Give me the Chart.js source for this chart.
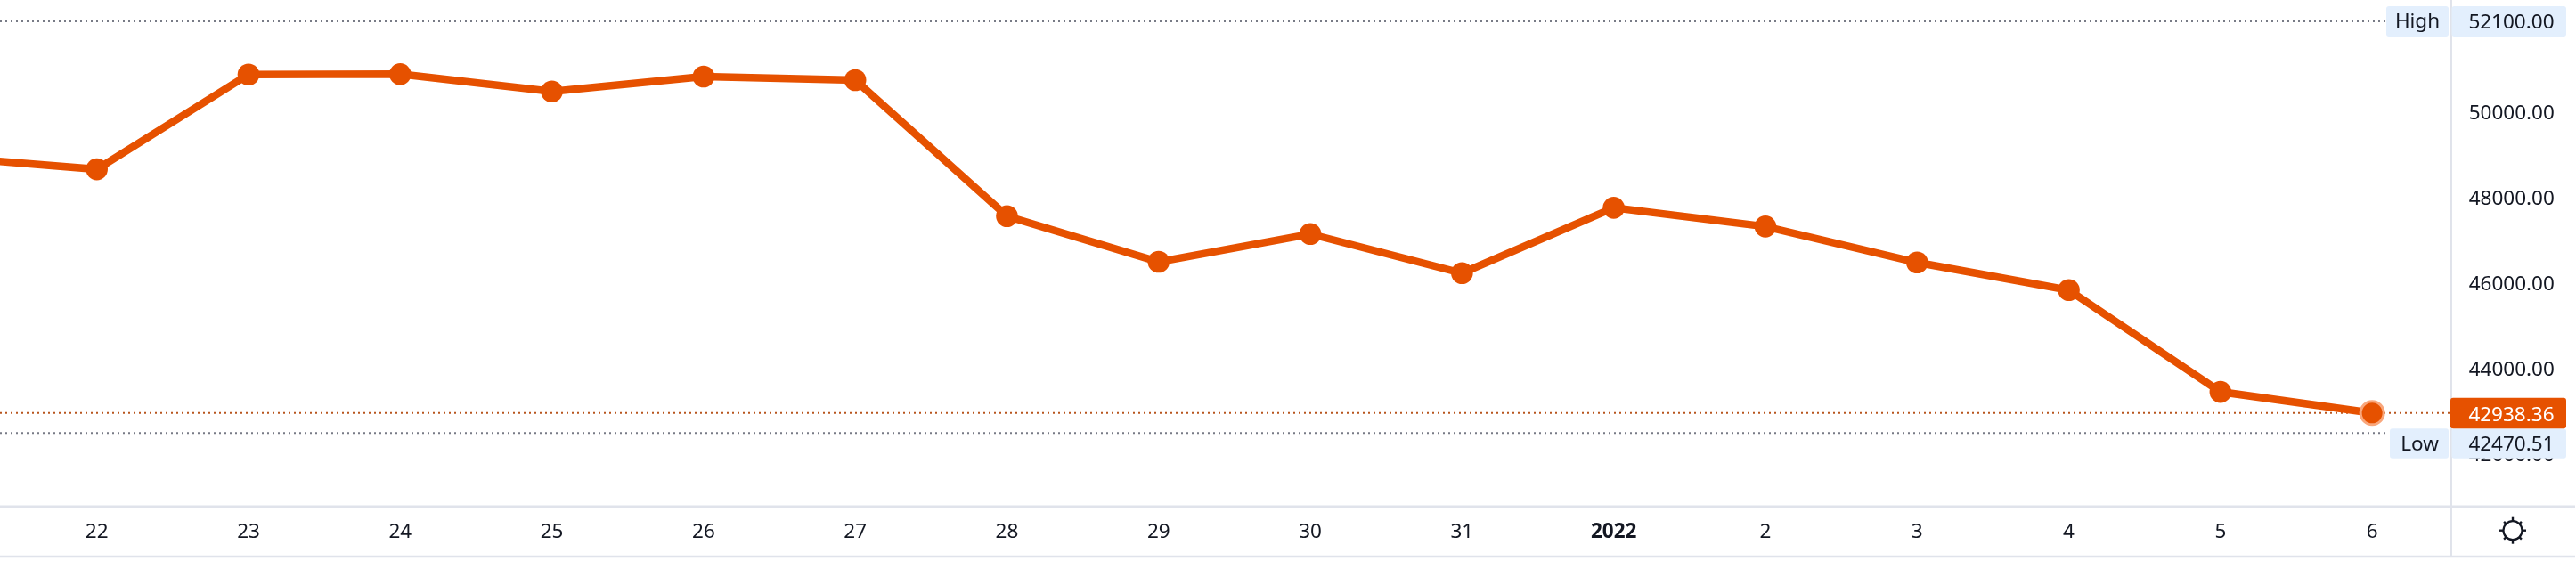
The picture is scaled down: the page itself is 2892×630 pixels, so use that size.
<!DOCTYPE html>
<html>
<head>
<meta charset="utf-8">
<style>html,body{margin:0;padding:0;background:#fff}canvas{display:block}</style>
<script src="https://cdn.jsdelivr.net/npm/chart.js@4/dist/chart.umd.min.js"></script>
</head>
<body>
<canvas id="c" width="2892" height="630"></canvas>
<script>
const categories = ["21","22","23","24","25","26","27","28","29","30","31","2022","2","3","4","5","6"];
const closeValues = [48926,48640,50856,50864,50460,50808,50725,47543,46474,47126,46209,47739,47301,46459,45813,43432,42938.36];
const yTickValues = [42000,44000,46000,48000,50000,52000];
const highValue = 52100.00;
const lowValue = 42470.51;
const lastValue = 42938.36;
const boldLabels = ["2022"];

const ORANGE = "#e65100";
const INK = "#131722";
const TAG = "#e3effd";
const RULE = "#e0e3eb";
const FONT = '"Noto Sans", sans-serif';
const FONT_SIZE = 22.5;

function tag(ctx, x0, x1, y0, y1, fill) {
  ctx.fillStyle = fill;
  ctx.beginPath();
  ctx.roundRect(x0, y0, x1 - x0, y1 - y0, 3);
  ctx.fill();
}
function label(ctx, text, x, y, color, align) {
  ctx.fillStyle = color;
  ctx.textAlign = align;
  ctx.textBaseline = "middle";
  ctx.font = FONT_SIZE + "px " + FONT;
  ctx.fillText(text, x, y);
}
function hline(ctx, y, x1, color) {
  ctx.save();
  ctx.strokeStyle = color;
  ctx.lineWidth = 2;
  ctx.setLineDash([2, 4]);
  ctx.beginPath();
  ctx.moveTo(0, y);
  ctx.lineTo(x1, y);
  ctx.stroke();
  ctx.restore();
}

const chrome = {
  id: "chrome",
  beforeDatasetsDraw(chart) {
    const ctx = chart.ctx, y = chart.scales.y;
    hline(ctx, y.getPixelForValue(highValue), 2679, "#787b86");
    hline(ctx, y.getPixelForValue(lowValue), 2680, "#787b86");
    hline(ctx, y.getPixelForValue(lastValue), 2751, "#b8551e");
  },
  afterDraw(chart) {
    const ctx = chart.ctx, y = chart.scales.y;
    ctx.save();
    ctx.strokeStyle = RULE;
    ctx.lineWidth = 2.5;
    ctx.beginPath();
    ctx.moveTo(0, 568.7); ctx.lineTo(2891, 568.7);
    ctx.moveTo(0, 625); ctx.lineTo(2891, 625);
    ctx.moveTo(2751.7, 0); ctx.lineTo(2751.7, 625);
    ctx.stroke();

    const hy = y.getPixelForValue(highValue);
    tag(ctx, 2679, 2749, hy - 17, hy + 17, TAG);
    tag(ctx, 2752.5, 2881, hy - 17, hy + 17, TAG);
    label(ctx, "High", 2714, hy + 1, INK, "center");
    label(ctx, highValue.toFixed(2), 2867.5, hy + 2, INK, "right");

    const ly = y.getPixelForValue(lowValue);
    tag(ctx, 2683, 2749, ly - 5, ly + 28.5, TAG);
    tag(ctx, 2752.5, 2881, ly - 5, ly + 28.5, TAG);
    label(ctx, "Low", 2716.5, ly + 13.5, INK, "center");
    label(ctx, lowValue.toFixed(2), 2867.5, ly + 13.5, INK, "right");

    const py = y.getPixelForValue(lastValue);
    tag(ctx, 2751, 2881, py - 17, py + 17.5, ORANGE);
    label(ctx, lastValue.toFixed(2), 2867.5, py + 2.5, "#ffffff", "right");

    // settings icon
    const cx = 2821, cy = 595.7;
    ctx.strokeStyle = INK;
    ctx.lineWidth = 2.2;
    ctx.beginPath();
    ctx.arc(cx, cy, 10.5, 0, Math.PI * 2);
    ctx.stroke();
    ctx.lineWidth = 2.4;
    for (let i = 0; i < 8; i++) {
      const a = i * Math.PI / 4, r = i % 2 ? 14 : 15;
      ctx.beginPath();
      ctx.moveTo(cx + Math.cos(a) * 10.5, cy + Math.sin(a) * 10.5);
      ctx.lineTo(cx + Math.cos(a) * r, cy + Math.sin(a) * r);
      ctx.stroke();
    }
    ctx.restore();
  }
};

new Chart(document.getElementById("c"), {
  type: "line",
  plugins: [chrome],
  data: {
    datasets: [{
      data: closeValues.map((v, i) => ({ x: i, y: v })),
      borderColor: ORANGE,
      backgroundColor: ORANGE,
      borderWidth: 8.5,
      tension: 0,
      fill: false,
      pointBackgroundColor: ORANGE,
      pointRadius: c => c.dataIndex === closeValues.length - 1 ? 13 : 12.3,
      pointBorderWidth: c => c.dataIndex === closeValues.length - 1 ? 3 : 0,
      pointBorderColor: "#f9a77c"
    }]
  },
  options: {
    responsive: false,
    animation: false,
    devicePixelRatio: 1,
    layout: { padding: 0, autoPadding: false },
    plugins: { legend: { display: false }, tooltip: { enabled: false } },
    events: [],
    scales: {
      x: {
        type: "linear",
        min: 0.3617,
        max: 16.52,
        grid: { display: false, drawTicks: false },
        border: { display: false },
        afterBuildTicks: s => { s.ticks = categories.map((_, i) => ({ value: i })).slice(1); },
        afterFit: s => { s.height = 630 - 568; s.paddingLeft = 0; s.paddingRight = 0; },
        ticks: {
          autoSkip: false,
          maxRotation: 0,
          padding: 16,
          color: INK,
          font: c => ({
            family: FONT,
            size: FONT_SIZE,
            weight: boldLabels.includes(categories[c.tick && c.tick.value]) ? "bold" : "normal"
          }),
          callback: v => categories[v]
        }
      },
      y: {
        type: "linear",
        position: "right",
        min: 40767,
        max: 52600,
        grid: { display: false, drawTicks: false },
        border: { display: false },
        afterBuildTicks: s => { s.ticks = yTickValues.map(v => ({ value: v })); },
        afterFit: s => { s.width = 2892 - 2751.7; s.paddingTop = 0; s.paddingBottom = 0; },
        ticks: {
          padding: 20,
          labelOffset: 2.5,
          color: INK,
          font: { family: FONT, size: FONT_SIZE },
          callback: v => v.toFixed(2)
        }
      }
    }
  }
});
</script>
</body>
</html>
